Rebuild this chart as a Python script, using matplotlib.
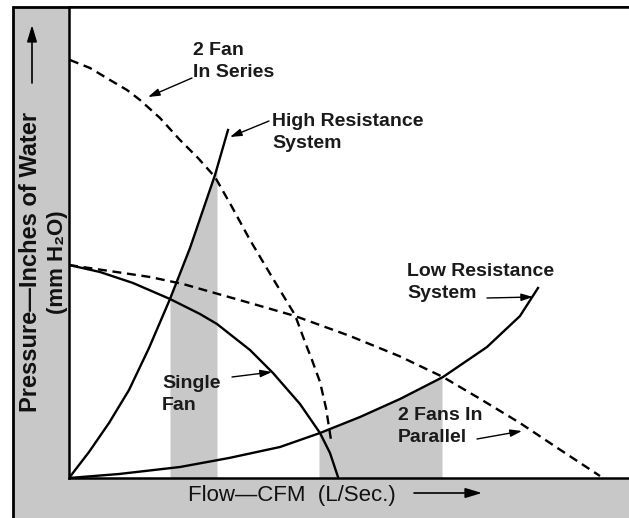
import numpy as np
import matplotlib
matplotlib.use('Agg')
import matplotlib.pyplot as plt
from matplotlib.patches import Rectangle

plt.rcParams['font.family'] = ['Liberation Sans', 'DejaVu Sans']

# curves (x: flow, y: pressure, arbitrary units)
single_fan_x = [0, 31, 64, 101, 131, 148, 181, 204, 231, 251, 261, 269]
single_fan_y = [213, 206, 195, 179, 164, 154, 128, 105, 74, 45, 25, 1]

series_x = [1, 21, 41, 58, 71, 91, 111, 129, 146, 163, 181, 203, 226, 236, 243, 251, 257, 262]
series_y = [418, 410, 398, 388, 378, 360, 338, 320, 301, 271, 238, 201, 163, 136, 118, 96, 70, 38]

parallel_x = [0, 81, 114, 181, 226, 281, 330, 374, 408, 451, 490, 531]
parallel_y = [213, 201, 194, 175, 162, 142, 122, 101, 81, 55, 29, 2]

high_res_x = [0, 20, 40, 60, 80, 101, 121, 146, 159]
high_res_y = [0, 26, 55, 88, 130, 179, 230, 303, 348]

low_res_x = [0, 50, 111, 160, 211, 251, 291, 331, 374, 418, 451, 469]
low_res_y = [0, 4, 11, 20, 31, 45, 61, 79, 101, 131, 162, 190]

# operating ranges shaded in grey
band1 = (101, 148)
band2 = (250, 373)

gray = '#c8c8c8'
W, H = 629, 518

fig = plt.figure(figsize=(W / 100, H / 100), dpi=100)
bg = fig.add_axes([0, 0, 1, 1], zorder=-5)
bg.set_axis_off()
bg.set_xlim(0, W)
bg.set_ylim(0, H)
bg.add_patch(Rectangle((13, -5), W, H - 7 + 5, facecolor=gray,
                       edgecolor='black', lw=2))

ax = fig.add_axes([69 / W, 40 / H, 560 / W, 471 / H])
ax.set_xlim(0, 560)
ax.set_ylim(0, 471)
ax.set_facecolor('white')
ax.set_xticks([])
ax.set_yticks([])
ax.spines['right'].set_visible(False)
for s in ['left', 'bottom', 'top']:
    ax.spines[s].set_linewidth(1.8)

# shaded bands
for (a, b), cx, cy in [(band1, high_res_x, high_res_y), (band2, low_res_x, low_res_y)]:
    xs = [a] + [x for x in cx if a < x < b] + [b]
    ys = np.interp(xs, cx, cy)
    ax.fill_between(xs, 0, ys, color=gray, lw=0, zorder=1)

lw = 1.7
ax.plot(single_fan_x, single_fan_y, color='black', lw=lw, zorder=3)
ax.plot(high_res_x, high_res_y, color='black', lw=lw, zorder=3)
ax.plot(low_res_x, low_res_y, color='black', lw=lw, zorder=3)
ax.plot(series_x, series_y, color='black', lw=lw, dashes=(3.8, 2.4), zorder=3)
ax.plot(parallel_x, parallel_y, color='black', lw=lw, dashes=(3.8, 2.4), zorder=3)

fs = 14
labels = [
    ('2 Fan\nIn Series', (124, 436), (123, 400), (79, 381)),
    ('High Resistance\nSystem', (203, 365), (200, 357), (161, 341)),
    ('Low Resistance\nSystem', (338, 215), (418, 180), (464, 181)),
    ('Single\nFan', (93, 103), (163, 101), (203, 106)),
    ('2 Fans In\nParallel', (329, 71), (408, 39), (453, 47)),
]
for txt, pos, tail, tip in labels:
    ax.text(pos[0], pos[1], txt, ha='left', va='top', fontsize=fs,
            fontweight='bold', linespacing=1.4, color='#1a1a1a', zorder=4)
    ax.annotate('', xy=tip, xytext=tail,
                arrowprops=dict(arrowstyle='-|>,head_length=0.7,head_width=0.22',
                                color='black', lw=1.0, shrinkA=0, shrinkB=0),
                zorder=4)

# axis titles and arrows in the grey frame
ax.annotate('Flow\u2014CFM  (L/Sec.)', xy=(292, 23), xycoords='figure pixels',
            ha='center', va='center', fontsize=16, color='#111111',
            annotation_clip=False)
ax.annotate('', xy=(482, 25), xytext=(414, 25), xycoords='figure pixels',
            arrowprops=dict(arrowstyle='-|>,head_length=1.0,head_width=0.3',
                            color='black', lw=1.2, shrinkA=0, shrinkB=0),
            annotation_clip=False)
ax.annotate('Pressure\u2014Inches of Water', xy=(31, 256), xycoords='figure pixels',
            ha='center', va='center', rotation=90, fontsize=17,
            fontweight='bold', color='#111111', annotation_clip=False)
ax.annotate('(mm H\u2082O)', xy=(58, 256), xycoords='figure pixels',
            ha='center', va='center', rotation=90, fontsize=16,
            fontweight='bold', color='#111111', annotation_clip=False)
ax.annotate('', xy=(32, 493), xytext=(32, 435), xycoords='figure pixels',
            arrowprops=dict(arrowstyle='-|>,head_length=1.0,head_width=0.3',
                            color='black', lw=1.2, shrinkA=0, shrinkB=0),
            annotation_clip=False)

fig.savefig('out.png', dpi=100)
